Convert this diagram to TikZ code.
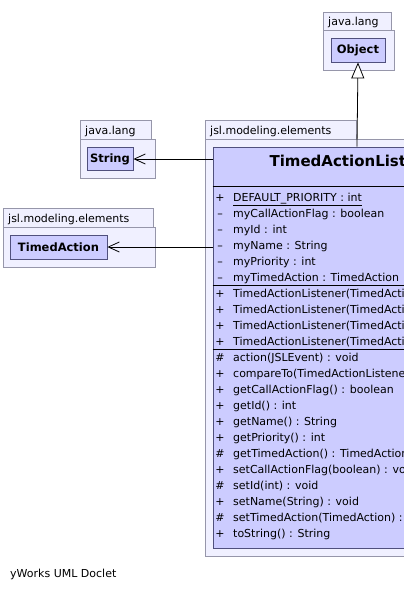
\documentclass[tikz,border=0pt]{standalone}
\usepackage{fontspec}
\setmainfont{DejaVu Sans}
\usetikzlibrary{arrows.meta}
\definecolor{pkgfill}{RGB}{240,240,255}
\definecolor{pkgline}{RGB}{150,150,170}
\definecolor{clsfill}{RGB}{204,204,255}
\definecolor{clsline}{RGB}{80,80,125}
\begin{document}
\begin{tikzpicture}[x=1pt,y=-1pt,
  pkg/.style={draw=pkgline, fill=pkgfill, line width=0.8pt},
  pkglabel/.style={anchor=base west, inner sep=0pt, font=\fontsize{11}{13}\selectfont},
  cls/.style={draw=clsline, fill=clsfill, line width=0.8pt, inner sep=0pt, font=\bfseries\fontsize{11.5}{13}\selectfont},
  row/.style={anchor=base west, inner sep=0pt, font=\fontsize{11}{13}\selectfont},
  vis/.style={anchor=base, inner sep=0pt, font=\fontsize{11}{13}\selectfont},
  sepline/.style={draw=black, line width=0.8pt},
  dep/.style={draw=black, line width=0.8pt, -{Straight Barb[length=11pt,width=10pt]}},
  gen/.style={draw=black, line width=0.8pt, -{Triangle[open,length=16pt,width=13pt,fill=white]}}
]
\useasboundingbox (0,0) rectangle (404,589);
\clip (0,0) rectangle (404,589);
\fill[white] (0,0) rectangle (404,589);

% --- package java.lang (Object)
\path[pkg] (323,12) rectangle (391,30);
\path[pkg] (323,30) rectangle (394,70);
\node[pkglabel] (pobj) at (328,25) {java.lang};
\node[cls, minimum width=54pt, minimum height=24pt] (object) at (358,50) {Object};

% --- package java.lang (String)
\path[pkg] (80,120) rectangle (151,139);
\path[pkg] (80,139) rectangle (155,178);
\node[pkglabel] (pstr) at (85,134) {java.lang};
\node[cls, minimum width=46pt, minimum height=23pt] (string) at (110,159) {String};

% --- package jsl.modeling.elements (TimedAction)
\path[pkg] (3,208) rectangle (153,227);
\path[pkg] (3,227) rectangle (155,267);
\node[pkglabel] (pta) at (8,222) {jsl.modeling.elements};
\node[cls, minimum width=97pt, minimum height=24pt] (ta) at (58.5,247) {TimedAction};

% --- package jsl.modeling.elements (main)
\path[pkg] (205,120) rectangle (356,139);
\path[pkg] (205,139) rectangle (512,556);
\node[pkglabel] (pmain) at (210,134) {jsl.modeling.elements};
\node[cls, minimum width=288pt, minimum height=401pt] (main) at (357,347.5) {};
\node[anchor=base, inner sep=0pt, font=\bfseries\fontsize{15}{17}\selectfont] (title) at (357,166) {TimedActionListener};

\draw[sepline] (main.west |- 0,186) -- (main.east |- 0,186);
\draw[sepline] (main.west |- 0,285) -- (main.east |- 0,285);
\draw[sepline] (main.west |- 0,349) -- (main.east |- 0,349);

% rows
\foreach \i/\v/\t in {
  1/+/{\underline{DEFAULT\_PRIORITY : int}},
  2/–/{myCallActionFlag : boolean},
  3/–/{myId : int},
  4/–/{myName : String},
  5/–/{myPriority : int},
  6/–/{myTimedAction : TimedAction},
  7/+/{TimedActionListener(TimedAction)},
  8/+/{TimedActionListener(TimedAction, boolean)},
  9/+/{TimedActionListener(TimedAction, int)},
  10/+/{TimedActionListener(TimedAction, int, boolean)},
  11/\#/{action(JSLEvent) : void},
  12/+/{compareTo(TimedActionListener) : int},
  13/+/{getCallActionFlag() : boolean},
  14/+/{getId() : int},
  15/+/{getName() : String},
  16/+/{getPriority() : int},
  17/\#/{getTimedAction() : TimedAction},
  18/+/{setCallActionFlag(boolean) : void},
  19/\#/{setId(int) : void},
  20/+/{setName(String) : void},
  21/\#/{setTimedAction(TimedAction) : void},
  22/+/{toString() : String}}
{
  \node[vis] (v\i) at (220,{201+16*(\i-1)}) {\v};
  \node[row] (r\i) at (233,{201+16*(\i-1)}) {\t};
}

% connectors
\draw[gen] (main.north) -- (object.south);
\draw[dep] (main.west |- string.east) -- (string.east);
\draw[dep] (main.west |- ta.east) -- (ta.east);

\node[anchor=base west, inner sep=0pt, font=\fontsize{11}{13}\selectfont] (footer) at (10,577) {yWorks UML Doclet};
\end{tikzpicture}
\end{document}
